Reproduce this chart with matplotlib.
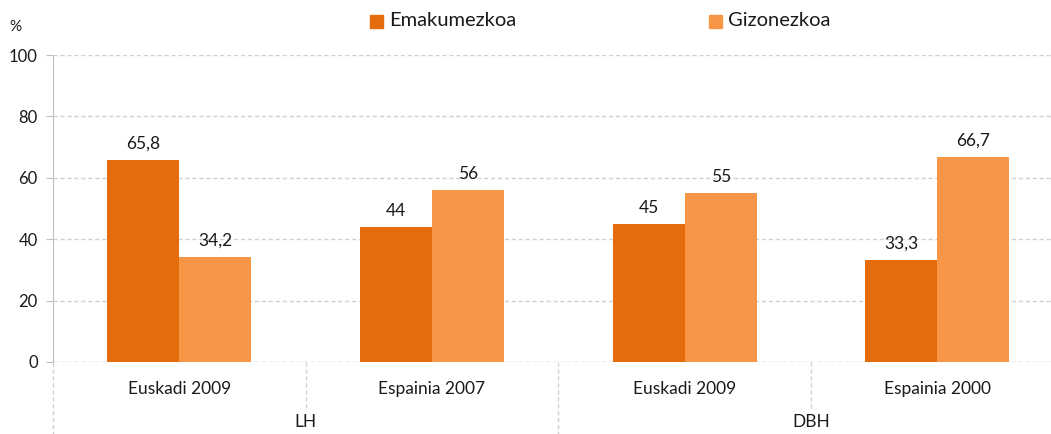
import numpy as np
import matplotlib.pyplot as plt
import matplotlib.transforms as mtransforms

plt.rcParams['font.family'] = ['Lato', 'DejaVu Sans']

CATEGORIES = ['Euskadi 2009', 'Espainia 2007', 'Euskadi 2009', 'Espainia 2000']
GROUPS = ['LH', 'DBH']
EMAKUMEZKOA = [65.8, 44, 45, 33.3]
GIZONEZKOA = [34.2, 56, 55, 66.7]
SERIES = ['Emakumezkoa', 'Gizonezkoa']
COLORS = ['#E46C0A', '#F79646']
GRID = '#D0D0D0'


def fmt(v):
    s = ('%g' % v).replace('.', ',')
    return s


def main():
    fig = plt.figure(figsize=(10.51, 4.34), dpi=100)
    W, H = 1051, 434
    ax = fig.add_axes([53 / W, (H - 362) / H, 1010.8 / W, 307 / H])

    x = np.arange(len(CATEGORIES))
    w = 0.285
    b1 = ax.bar(x - w / 2, EMAKUMEZKOA, w, color=COLORS[0], zorder=3)
    b2 = ax.bar(x + w / 2, GIZONEZKOA, w, color=COLORS[1], zorder=3)
    for bars, vals in ((b1, EMAKUMEZKOA), (b2, GIZONEZKOA)):
        for r, v in zip(bars, vals):
            ax.annotate(fmt(v), (r.get_x() + r.get_width() / 2, v),
                        xytext=(0, 6), textcoords='offset points',
                        ha='center', va='bottom', fontsize=12.5, color='#1a1a1a')

    ax.set_xlim(-0.5, 3.5)
    ax.set_ylim(0, 100)
    ax.set_yticks([0, 20, 40, 60, 80, 100])
    ax.tick_params(axis='y', labelsize=12, length=5, color='#BFBFBF', labelcolor='#1a1a1a', pad=6)
    ax.set_xticks([])
    ax.grid(axis='y', color=GRID, linestyle=(0, (3, 2)), linewidth=1, zorder=0)
    for s in ('top', 'right', 'bottom'):
        ax.spines[s].set_visible(False)
    ax.spines['left'].set_color('#BFBFBF')
    ax.axhline(0, color=GRID, linestyle=(0, (3, 2)), linewidth=1, zorder=1)

    # category labels and separators below axis
    trans = mtransforms.blended_transform_factory(ax.transData, ax.transAxes)
    px = 1 / 307
    for i, c in enumerate(CATEGORIES):
        ax.text(i, -27 * px, c, transform=trans, ha='center', va='center', fontsize=12.5, color='#1a1a1a')
    for xs in (0.5, 2.5):
        ax.plot([xs, xs], [0, -46 * px], transform=trans, color=GRID,
                linestyle=(0, (3, 2)), linewidth=1, clip_on=False)
    for xs in (-0.5, 1.5, 3.5):
        ax.plot([xs, xs], [0, -80 * px], transform=trans, color=GRID,
                linestyle=(0, (3, 2)), linewidth=1, clip_on=False)
    for g, xc in zip(GROUPS, (0.5, 2.5)):
        ax.text(xc, -60 * px, g, transform=trans, ha='center', va='center', fontsize=12.5, color='#1a1a1a')

    fig.text(15 / W, 1 - 27 / H, '%', ha='center', va='center', fontsize=11, color='#1a1a1a')

    # legend
    for name, col, sx in zip(SERIES, COLORS, (370, 709)):
        fig.patches.append(plt.Rectangle((sx / W, 1 - 28 / H), 13 / W, 13 / H,
                                         transform=fig.transFigure, color=col))
        fig.text((sx + 19) / W, 1 - 21 / H, name, ha='left', va='center',
                 fontsize=14.5, color='#1a1a1a')

    fig.savefig('out.png', dpi=100)


if __name__ == '__main__':
    main()
